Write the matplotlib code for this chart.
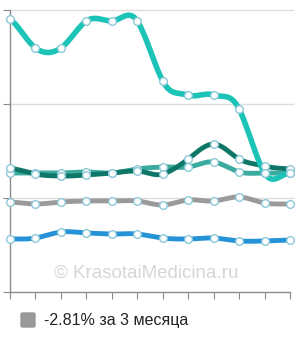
import numpy as np
import matplotlib
matplotlib.use("Agg")
import matplotlib.pyplot as plt
from matplotlib.patches import FancyBboxPatch

# 12 точек по месяцам
months = list(range(12))

turquoise = [290.4, 259.6, 259.6, 288.3, 288.3, 288.3, 224.5, 209.6, 209.6, 194.7, 126.6, 126.6]
dark_teal = [131.9, 125.5, 123.4, 124.5, 126.6, 128.7, 125.5, 141.5, 157.4, 141.5, 134.0, 130.9]
mid_teal = [126.6, 126.6, 126.6, 127.7, 126.6, 130.9, 133.0, 133.0, 138.3, 127.7, 126.6, 126.6]
gray = [95.7, 93.6, 95.7, 96.8, 96.8, 96.8, 92.6, 97.9, 96.8, 101.1, 94.7, 93.6]
blue = [56.4, 57.4, 63.8, 62.8, 61.7, 61.7, 57.4, 56.4, 57.4, 54.3, 54.3, 55.3]

legend_label = "-2.81% за 3 месяца"
watermark = "© KrasotaiMedicina.ru"


def spline(x, y, k=1.3, n=20):
    # кубический эрмит, касательные как у catmull-rom
    x = np.asarray(x, float)
    y = np.asarray(y, float)
    m = np.zeros_like(y)
    m[1:-1] = (y[2:] - y[:-2]) / 2
    m[0] = (y[1] - y[0]) / 2
    m[-1] = (y[-1] - y[-2]) / 2
    m *= k
    xs, ys = [], []
    for i in range(len(x) - 1):
        t = np.linspace(0, 1, n, endpoint=False)
        h00 = 2 * t**3 - 3 * t**2 + 1
        h10 = t**3 - 2 * t**2 + t
        h01 = -2 * t**3 + 3 * t**2
        h11 = t**3 - t**2
        xs.append(x[i] + t * (x[i + 1] - x[i]))
        ys.append(h00 * y[i] + h10 * m[i] + h01 * y[i + 1] + h11 * m[i + 1])
    xs.append([x[-1]])
    ys.append([y[-1]])
    return np.concatenate(xs), np.concatenate(ys)


plt.rcParams['font.family'] = ['Liberation Sans', 'DejaVu Sans']

fig = plt.figure(figsize=(3.0, 3.4), dpi=100)
ax = fig.add_axes([10 / 300, 48 / 340, 280 / 300, 282 / 340])
ax.set_xlim(0, 11)
ax.set_ylim(0, 300)

for g in (100, 200, 300):
    ax.axhline(g, color='#dddddd', lw=1, zorder=0, xmax=1.01, clip_on=False)

ax.text(5.35, 20, watermark, color='#d6d6d6', fontsize=13.5, ha='center', va='center', zorder=1)

series = [
    (blue, '#2592d8', 3.5),
    (gray, '#9a9a9a', 3.5),
    (mid_teal, '#3aab9c', 3.5),
    (dark_teal, '#0f7767', 3.5),
    (turquoise, '#1cc3b7', 4),
]
for vals, col, lw in series:
    sx, sy = spline(months, vals)
    ax.plot(sx, sy, color=col, lw=lw, solid_capstyle='round', zorder=3, clip_on=False)
    ax.plot(months, vals, 'o', ms=5.5, mfc='white', mec='#8cc8d8', mew=1, zorder=4, clip_on=False)

for s in ('top', 'right'):
    ax.spines[s].set_visible(False)
for s in ('left', 'bottom'):
    ax.spines[s].set_color('#8a8a8a')
    ax.spines[s].set_linewidth(1)
ax.set_xticks(months)
ax.set_yticks([0, 100, 200, 300])
ax.tick_params(axis='both', length=5, color='#8a8a8a', labelbottom=False, labelleft=False)

# легенда
fig.patches.append(FancyBboxPatch((21 / 300, 13 / 340), 14 / 300, 14 / 340,
                                  boxstyle='round,pad=0,rounding_size=0.005',
                                  transform=fig.transFigure, color='#999999'))
fig.text(44 / 300, 20 / 340, legend_label, fontsize=11.5, color='#222222', va='center')

fig.savefig('out.png', dpi=100)
